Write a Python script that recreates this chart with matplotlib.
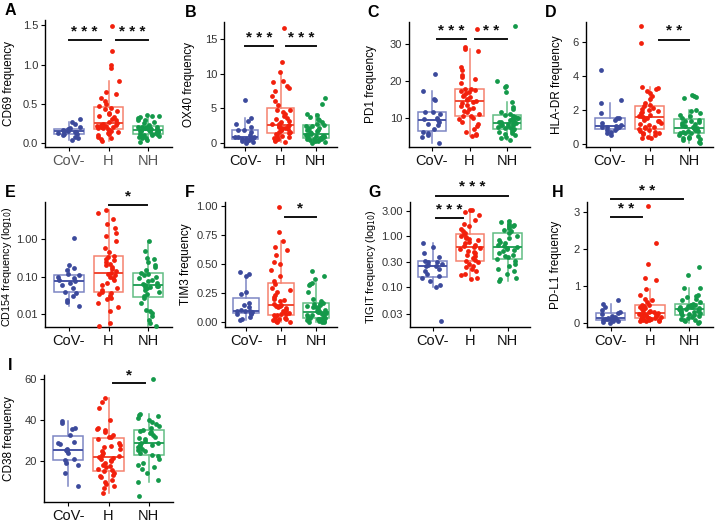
import matplotlib
matplotlib.use('Agg')
import matplotlib.pyplot as plt
import numpy as np

plt.rcParams['font.family'] = ['Liberation Sans', 'DejaVu Sans']

groups = ['CoV-', 'H', 'NH']
dot_colors = ['#3c4a9c', '#f2200c', '#14994a']
box_colors = ['#7d86c4', '#f5826f', '#62bd84']
med_colors = ['#4855a6', '#f04a34', '#2aa25c']

# ---- values ----
cd69_cov = [0.04, 0.06, 0.08, 0.10, 0.11, 0.12, 0.13, 0.14, 0.14, 0.15, 0.15, 0.16, 0.17, 0.18, 0.18, 0.19, 0.21, 0.24, 0.27, 0.31]
cd69_h = [0.03, 0.05, 0.07, 0.08, 0.10, 0.11, 0.13, 0.14, 0.15, 0.17,
          0.18, 0.19, 0.19, 0.20, 0.21, 0.21, 0.22, 0.22, 0.23, 0.23, 0.24,
          0.25, 0.27, 0.29, 0.31, 0.33, 0.35, 0.37, 0.39, 0.41, 0.43, 0.45,
          0.47, 0.50, 0.54, 0.58, 0.62, 0.65, 0.79, 0.96, 0.99, 1.17, 1.49]
cd69_nh = [0.01, 0.04, 0.06, 0.07, 0.08, 0.09, 0.09, 0.10, 0.10, 0.11,
           0.12, 0.12, 0.13, 0.14, 0.14, 0.15, 0.15, 0.16, 0.16, 0.17,
           0.17, 0.18, 0.18, 0.19, 0.19, 0.19, 0.20, 0.20, 0.21, 0.21,
           0.23, 0.25, 0.27, 0.29, 0.30, 0.32, 0.33, 0.34, 0.35, 0.36]

ox40_cov = [0.05, 0.1, 0.2, 0.3, 0.4, 0.5, 0.55, 0.6, 0.7, 0.8, 0.85, 0.9, 1.2, 1.5, 1.8, 1.9, 2.3, 2.8, 3.2, 3.6, 6.2]
ox40_h = [0.1, 0.2, 0.4, 0.5, 0.7, 0.8, 0.9, 1.0, 1.1, 1.3, 1.4,
          1.5, 1.6, 1.8, 1.9, 2.0, 2.1, 2.2, 2.3, 2.4, 2.5, 2.6,
          2.7, 2.8, 3.0, 3.2, 3.4, 3.6, 3.9, 4.2, 4.5, 4.7, 4.8,
          5.5, 6.0, 6.8, 7.5, 8.0, 8.3, 8.8, 9.0, 10.2, 11.7, 16.7]
ox40_nh = [0.05, 0.1, 0.2, 0.3, 0.35, 0.4, 0.5, 0.55, 0.6, 0.7,
           0.75, 0.8, 0.85, 0.9, 0.95, 1.0, 1.05, 1.1, 1.15, 1.2,
           1.3, 1.4, 1.5, 1.7, 1.8, 1.9, 2.1, 2.2, 2.4, 2.5,
           2.6, 2.8, 3.0, 3.3, 3.5, 3.7, 4.0, 4.2, 5.6, 6.5]

pd1_cov = [3.3, 5.0, 5.5, 6.0, 6.2, 7.0, 8.0, 8.5, 9.0, 9.4, 9.6, 10.0, 11.0, 11.5, 11.7, 14.8, 15.2, 17.3, 21.7]
pd1_h = [5.2, 5.5, 5.8, 6.3, 7.0, 7.8, 8.5, 9.0, 9.6, 10.0, 10.4,
         10.6, 11.0, 11.5, 12.0, 12.3, 12.8, 13.2, 13.6, 14.0, 14.3, 14.6,
         14.8, 15.2, 15.6, 16.0, 16.3, 16.7, 17.0, 17.3, 17.6, 17.8, 17.9,
         19.5, 20.5, 21.0, 21.5, 23.0, 23.8, 28.0, 28.6, 29.0, 34.0]
pd1_nh = [4.0, 4.5, 5.0, 5.5, 5.8, 6.0, 6.3, 6.5, 6.8, 7.0,
          7.2, 7.4, 7.6, 7.8, 8.0, 8.1, 8.2, 8.3, 8.5, 8.6,
          8.8, 9.0, 9.3, 9.5, 9.7, 9.9, 10.1, 10.3, 10.5, 10.7,
          11.0, 11.5, 12.3, 13.0, 14.2, 17.0, 18.3, 18.6, 20.0, 34.8]

hla_cov = [0.5, 0.6, 0.7, 0.8, 0.8, 0.9, 0.95, 1.0, 1.0, 1.05, 1.1, 1.2, 1.4, 1.5, 1.5, 1.8, 2.4, 2.55, 4.3]
hla_h = [0.3, 0.35, 0.4, 0.5, 0.55, 0.6, 0.65, 0.7, 0.75, 0.8, 0.85,
         0.9, 0.95, 1.0, 1.1, 1.15, 1.2, 1.3, 1.35, 1.4, 1.5, 1.55,
         1.6, 1.65, 1.7, 1.8, 1.85, 1.9, 2.0, 2.05, 2.1, 2.2, 2.25,
         2.4, 2.6, 2.8, 3.0, 3.1, 3.2, 3.25, 3.3, 5.9, 6.9]
hla_nh = [0.05, 0.1, 0.2, 0.25, 0.3, 0.35, 0.4, 0.45, 0.5, 0.6,
          0.62, 0.65, 0.7, 0.72, 0.75, 0.8, 0.82, 0.85, 0.9, 0.92,
          0.95, 1.0, 1.05, 1.1, 1.15, 1.2, 1.25, 1.3, 1.35, 1.4,
          1.5, 1.6, 1.7, 1.8, 1.9, 2.0, 2.7, 2.75, 2.8, 2.85]

cd154_cov = [0.017, 0.021, 0.024, 0.03, 0.037, 0.04, 0.05, 0.06, 0.07, 0.075, 0.08, 0.09, 0.1, 0.11, 0.12, 0.15, 0.17, 0.2, 1.1]
cd154_h = [0.005, 0.006, 0.012, 0.016, 0.02, 0.025, 0.027, 0.03, 0.035, 0.038, 0.04,
           0.045, 0.05, 0.06, 0.07, 0.08, 0.09, 0.1, 0.11, 0.12, 0.13,
           0.14, 0.16, 0.18, 0.2, 0.22, 0.25, 0.28, 0.3, 0.33, 0.35,
           0.45, 0.6, 0.9, 1.2, 1.5, 2.0, 2.5, 3.5, 5.0, 6.0]
cd154_nh = [0.005, 0.006, 0.007, 0.009, 0.011, 0.012, 0.013, 0.02, 0.027, 0.03,
            0.035, 0.04, 0.045, 0.05, 0.052, 0.055, 0.057, 0.058, 0.06, 0.065,
            0.07, 0.075, 0.08, 0.09, 0.1, 0.11, 0.12, 0.13, 0.15, 0.18,
            0.2, 0.25, 0.3, 0.32, 0.5, 0.9]

tim3_cov = [0.02, 0.03, 0.05, 0.07, 0.075, 0.08, 0.09, 0.1, 0.1, 0.1, 0.11, 0.13, 0.15, 0.17, 0.245, 0.26, 0.4, 0.42, 0.43]
tim3_h = [0.0, 0.005, 0.01, 0.015, 0.02, 0.025, 0.03, 0.04, 0.05, 0.06, 0.065,
          0.07, 0.075, 0.08, 0.09, 0.1, 0.11, 0.12, 0.13, 0.14, 0.145, 0.15,
          0.16, 0.18, 0.19, 0.2, 0.22, 0.24, 0.26, 0.28, 0.3, 0.33, 0.355,
          0.4, 0.45, 0.5, 0.52, 0.58, 0.62, 0.65, 0.7, 0.78, 0.99]
tim3_nh = [0.0, 0.002, 0.005, 0.01, 0.015, 0.02, 0.025, 0.03, 0.03, 0.035,
           0.04, 0.045, 0.05, 0.06, 0.065, 0.07, 0.075, 0.08, 0.085, 0.09,
           0.095, 0.1, 0.11, 0.12, 0.13, 0.135, 0.14, 0.15, 0.155, 0.16,
           0.17, 0.18, 0.2, 0.26, 0.32, 0.33, 0.34, 0.37, 0.4, 0.44]

tigit_cov = [0.022, 0.1, 0.11, 0.13, 0.15, 0.16, 0.18, 0.2, 0.22, 0.25, 0.26, 0.27, 0.28, 0.3, 0.31, 0.32, 0.38, 0.45, 0.6, 0.73]
tigit_h = [0.14, 0.15, 0.17, 0.18, 0.2, 0.22, 0.24, 0.26, 0.28, 0.3, 0.32,
           0.34, 0.37, 0.4, 0.42, 0.45, 0.48, 0.5, 0.55, 0.58, 0.6,
           0.62, 0.65, 0.7, 0.75, 0.8, 0.85, 0.9, 0.95, 1.0, 1.05,
           1.1, 1.2, 1.35, 1.5, 1.7, 2.0, 2.5, 2.9, 3.1, 3.2]
tigit_nh = [0.13, 0.14, 0.15, 0.18, 0.2, 0.22, 0.25, 0.28, 0.32, 0.35,
            0.38, 0.4, 0.42, 0.45, 0.5, 0.52, 0.55, 0.58, 0.6, 0.62,
            0.65, 0.7, 0.75, 0.8, 0.9, 1.0, 1.1, 1.2, 1.3, 1.4,
            1.5, 1.55, 1.6, 1.7, 1.8, 1.9]

pdl1_cov = [0.0, 0.02, 0.03, 0.05, 0.07, 0.08, 0.09, 0.1, 0.11, 0.12, 0.13, 0.15, 0.18, 0.22, 0.25, 0.3, 0.35, 0.42, 0.5, 0.62]
pdl1_h = [0.03, 0.04, 0.05, 0.06, 0.07, 0.08, 0.09, 0.1, 0.1, 0.11, 0.12,
          0.13, 0.14, 0.15, 0.16, 0.17, 0.18, 0.2, 0.21, 0.22, 0.24, 0.25,
          0.26, 0.28, 0.3, 0.32, 0.35, 0.37, 0.4, 0.42, 0.45, 0.47, 0.49,
          0.55, 0.62, 0.65, 0.75, 0.9, 1.15, 1.2, 1.6, 2.15, 3.15]
pdl1_nh = [0.0, 0.02, 0.04, 0.06, 0.08, 0.1, 0.12, 0.15, 0.18, 0.2,
           0.21, 0.23, 0.25, 0.27, 0.29, 0.3, 0.32, 0.33, 0.35, 0.36,
           0.37, 0.38, 0.4, 0.42, 0.43, 0.45, 0.46, 0.47, 0.49, 0.5,
           0.55, 0.6, 0.65, 0.7, 0.72, 0.75, 0.93, 0.95, 1.3, 1.52]

cd38_cov = [8, 14, 18, 19, 20.3, 21, 24, 25, 25.3, 26, 28.5, 29, 29.5, 33, 35.5, 36, 38.5, 39.5]
cd38_h = [4.5, 7, 8, 9, 10, 11, 12, 12.5, 13, 14, 15,
          15.5, 16, 17, 17.5, 18, 19, 20, 20.5, 21, 21.5, 22,
          22.5, 23, 24, 25, 26, 27, 27.5, 28, 29, 31, 31.8,
          32, 33, 34, 35, 35.5, 36, 40, 46, 49, 51]
cd38_nh = [3, 10, 11, 14, 16, 17, 18, 19, 21, 22.5,
           23, 24, 25, 25.5, 26, 27, 27.5, 28, 28.5, 28.7,
           29, 30, 31, 31.5, 32, 33, 33.5, 34, 34.5, 35,
           36, 37, 38, 39, 40, 41, 42, 42.5, 43, 60]

# panel: letter, ylabel, data, log, ylim, yticks, ticklabels, brackets,
# axes box in px (l, t, r, b), ylabel right edge px, letter x px
panels = [
    ('A', 'CD69 frequency', [cd69_cov, cd69_h, cd69_nh], False, (-0.05, 1.57), [0, 0.5, 1.0, 1.5], ['0.0', '0.5', '1.0', '1.5'],
     [(1.0, 1.8, 1.31, '***'), (2.2, 3.0, 1.31, '***')], (45, 20, 172, 147), 15, 5),
    ('B', 'OX40 frequency', [ox40_cov, ox40_h, ox40_nh], False, (-0.6, 17.5), [0, 5, 10, 15], ['0', '5', '10', '15'],
     [(1.0, 1.8, 14.0, '***'), (2.15, 3.0, 14.0, '***')], (224, 22, 337, 147), 195, 185),
    ('C', 'PD1 frequency', [pd1_cov, pd1_h, pd1_nh], False, (2.2, 35.8), [10, 20, 30], ['10', '20', '30'],
     [(1.15, 1.9, 31.2, '***'), (2.15, 3.0, 31.2, '**')], (409, 22, 530, 147), 377, 367),
    ('D', 'HLA-DR frequency', [hla_cov, hla_h, hla_nh], False, (-0.2, 7.15), [0, 2, 4, 6], ['0', '2', '4', '6'],
     [(2.25, 3.0, 6.1, '**')], (586, 22, 713, 147), 563, 545),
    ('E', 'CD154 frequency (log$_{10}$)', [cd154_cov, cd154_h, cd154_nh], True, (np.log10(0.0046), np.log10(9.8)),
     [-2, -1, 0], ['0.01', '0.10', '1.00'], [(2.0, 2.97, np.log10(8.3), '*')], (45, 202, 172, 327), 14, 5),
    ('F', 'TIM3 frequency', [tim3_cov, tim3_h, tim3_nh], False, (-0.04, 1.037), [0, 0.25, 0.5, 0.75, 1.0],
     ['0.00', '0.25', '0.50', '0.75', '1.00'], [(2.1, 3.0, 0.91, '*')], (225, 202, 337, 327), 192, 185),
    ('G', 'TIGIT frequency (log$_{10}$)', [tigit_cov, tigit_h, tigit_nh], True, (np.log10(0.0165), np.log10(4.5)),
     list(np.log10([0.03, 0.1, 0.3, 1.0, 3.0])), ['0.03', '0.10', '0.30', '1.00', '3.00'],
     [(1.1, 1.8, np.log10(2.15), '***'), (1.1, 3.0, np.log10(6.0), '***')], (410, 202, 530, 327), 378, 368),
    ('H', 'PD-L1 frequency', [pdl1_cov, pdl1_h, pdl1_nh], False, (-0.12, 3.27), [0, 1, 2, 3], ['0', '1', '2', '3'],
     [(1.0, 1.8, 2.86, '**'), (1.0, 2.85, 3.34, '**')], (587, 202, 713, 327), 562, 552),
    ('I', 'CD38 frequency', [cd38_cov, cd38_h, cd38_nh], False, (0.0, 62.1), [20, 40, 60], ['20', '40', '60'],
     [(2.1, 2.9, 58.0, '*')], (44, 375, 173, 502), 15, 8),
]

W, H = 726, 522
fig = plt.figure(figsize=(W / 100, H / 100), dpi=100)
rng = np.random.default_rng(7)

for letter, ylab, data, is_log, ylim, yt, ytl, brackets, (l, t, r, b), lab_x, let_x in panels:
    ax = fig.add_axes([l / W, 1 - b / H, (r - l) / W, (b - t) / H])
    vals = [np.log10(np.array(d)) if is_log else np.array(d, dtype=float) for d in data]

    bp = ax.boxplot(vals, positions=[1, 2, 3], widths=0.75, showfliers=False, whis=1.5,
                    patch_artist=True, manage_ticks=False)
    for i in range(3):
        bp['boxes'][i].set(facecolor='none', edgecolor=box_colors[i], linewidth=1.1, zorder=1)
        bp['medians'][i].set(color=med_colors[i], linewidth=1.4, zorder=1)
        for w in bp['whiskers'][2 * i:2 * i + 2]:
            w.set(color=box_colors[i], linewidth=1.1)
        for c in bp['caps'][2 * i:2 * i + 2]:
            c.set_visible(False)

    for i, v in enumerate(vals):
        xs = i + 1 + rng.uniform(-0.28, 0.28, len(v))
        ax.scatter(xs, v, s=12, color=dot_colors[i], linewidths=0, zorder=3, clip_on=False)

    for x1, x2, y, lab in brackets:
        ax.plot([x1, x2], [y, y], color='#111111', linewidth=1.4, clip_on=False, zorder=4)
        ax.annotate(' '.join(lab), ((x1 + x2) / 2, y), xytext=(0, 1), textcoords='offset points',
                    ha='center', va='bottom', fontsize=11, fontweight='bold', color='#111111',
                    annotation_clip=False)

    ax.set_xlim(0.4, 3.6)
    ax.set_ylim(*ylim)
    ax.set_xticks([1, 2, 3])
    ax.set_xticklabels(groups, fontsize=10.5, color='#555555' if letter == 'A' else '#111111')
    ax.set_yticks(yt)
    ax.set_yticklabels(ytl, fontsize=8, color='#333333')
    ax.set_ylabel(ylab, fontsize=7.8 if is_log else 8.5)
    ax.yaxis.set_label_coords((lab_x - l) / (r - l), 0.48 if is_log else 0.5)
    for s in ['top', 'right']:
        ax.spines[s].set_visible(False)
    for s in ['left', 'bottom']:
        ax.spines[s].set_linewidth(1.0)
    ax.tick_params(length=3, width=0.8, pad=2)

    fig.text(let_x / W, 1 - t / H + 2 / H, letter, fontsize=11.5, fontweight='bold', ha='left', va='bottom')

fig.savefig('out.png', dpi=100)
